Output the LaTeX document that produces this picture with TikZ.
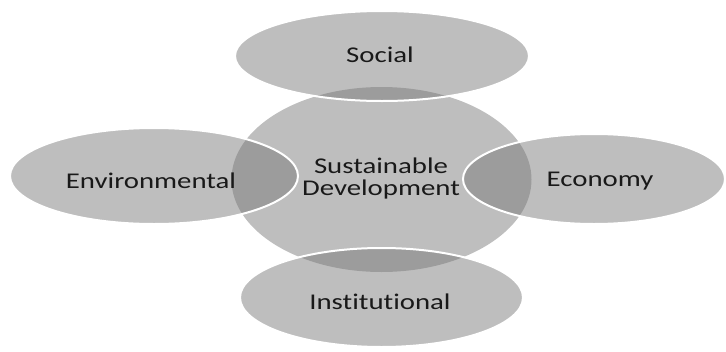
\documentclass[tikz,border=0pt]{standalone}
\usepackage{fontspec}
\setmainfont{Carlito}[FakeStretch=1.28,Ligatures=NoCommon]
\usetikzlibrary{shapes.geometric}
\definecolor{blobgray}{RGB}{119,119,119}
\definecolor{textc}{RGB}{25,25,25}
\begin{document}
\begin{tikzpicture}[x=1pt,y=-1pt,
  blob/.style={ellipse, inner sep=0pt, fill=blobgray, fill opacity=0.477},
  petal/.style={blob, draw=white, line width=2pt},
  lbl/.style={inner sep=0pt, text=textc, font=\fontsize{22.5}{21.5}\selectfont, align=center}]
\useasboundingbox (0,0) rectangle (726,351);
\node[blob, minimum width=300pt, minimum height=185pt] (core) at (381.5,179.5) {};
\node[petal, minimum width=294pt, minimum height=90pt] (social) at (382,56) {};
\node[petal, minimum width=288pt, minimum height=96pt] (env) at (154,176) {};
\node[petal, minimum width=262pt, minimum height=90pt] (eco) at (594,179) {};
\node[petal, minimum width=283pt, minimum height=99pt] (inst) at (381.5,297.5) {};
\node[lbl] (tcore) at (381,178.3) {Sustainable\\Development};
\node[lbl, anchor=base] (tsocial) at (380,62) {Social};
\node[lbl, anchor=base] (tenv) at (151,188) {Environmental};
\node[lbl, anchor=base] (teco) at (600,186) {Economy};
\node[lbl, anchor=base] (tinst) at (380,309) {Institutional};
\end{tikzpicture}
\end{document}
